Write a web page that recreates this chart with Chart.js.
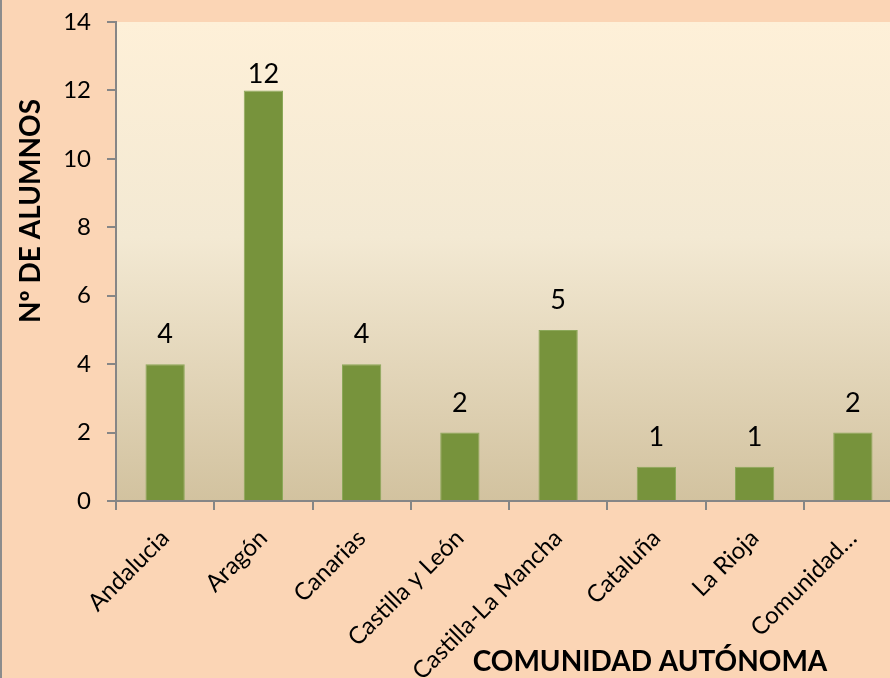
<!DOCTYPE html>
<html><head><meta charset="utf-8">
<script src="https://cdn.jsdelivr.net/npm/chart.js@4.4.1/dist/chart.umd.min.js"></script>
<style>
html,body{margin:0;padding:0;overflow:hidden;background:#FBD5B5;}
#wrap{position:relative;width:920px;height:678px;}
#wrap:before{content:"";position:absolute;left:0;top:0;width:2px;height:678px;background:#8C8C8C;z-index:2;}
canvas{display:block;}
</style></head>
<body>
<div id="wrap"><canvas id="c" width="920" height="678"></canvas></div>
<script>
const categories = ["Andalucia","Aragón","Canarias","Castilla y León","Castilla-La Mancha","Cataluña","La Rioja","Comunidad…"];
const alumnos = [4,12,4,2,5,1,1,2];
const yTicks = [0,2,4,6,8,10,12,14];
const yTitle = "Nº DE ALUMNOS";
const xTitle = "COMUNIDAD AUTÓNOMA";

const FONT = "Lato, 'Open Sans', sans-serif";
const axisColor = "#868686";

const bgPlugin = {
  id:'bg',
  beforeDraw(chart){
    const {ctx, chartArea:a} = chart;
    ctx.save();
    ctx.fillStyle = "#FBD5B5";
    ctx.fillRect(0,0,chart.width,chart.height);
    const g = ctx.createLinearGradient(0,a.top,0,a.bottom);
    g.addColorStop(0,"#FEF0D8");
    g.addColorStop(0.45,"#F3E9D3");
    g.addColorStop(1,"#D2C29F");
    ctx.fillStyle = g;
    ctx.fillRect(a.left,a.top,a.right-a.left,a.bottom-a.top);
    ctx.restore();
  }
};
const labelPlugin = {
  id:'labels',
  afterDatasetsDraw(chart){
    const {ctx} = chart;
    const meta = chart.getDatasetMeta(0);
    ctx.save();
    ctx.fillStyle = "#000";
    ctx.font = "27px " + FONT;
    ctx.textAlign = "center";
    ctx.textBaseline = "alphabetic";
    meta.data.forEach((el,i)=>{
      const y = Math.max(el.y - 21, chart.chartArea.top + 61);
      ctx.fillText(String(chart.data.datasets[0].data[i]), el.x, y);
    });
    ctx.restore();
  },
  afterDraw(chart){
    const {ctx} = chart;
    ctx.save();
    ctx.fillStyle = "#000";
    ctx.font = "bold 28px " + FONT;
    ctx.textAlign = "center";
    ctx.textBaseline = "middle";
    ctx.fillText(xTitle, 650, 662);
    ctx.translate(31, 211);
    ctx.rotate(-Math.PI/2);
    ctx.fillText(yTitle, 0, 0);
    ctx.restore();
  }
};

new Chart(document.getElementById('c'), {
  type:'bar',
  data:{
    labels: categories,
    datasets:[{
      data: alumnos,
      backgroundColor:"#77933C",
      borderColor:"#8CA85A",
      borderWidth:1,
      barPercentage:0.5,
      categoryPercentage:0.8
    }]
  },
  options:{
    responsive:false,
    animation:false,
    layout:{padding:{top:22,right:18,left:0,bottom:0}},
    plugins:{legend:{display:false},tooltip:{enabled:false}},
    scales:{
      x:{
        offset:true,
        grid:{display:true,offset:true,drawOnChartArea:false,drawTicks:true,tickLength:9,color:axisColor,lineWidth:2},
        border:{display:true,color:axisColor,width:2},
        ticks:{minRotation:45,maxRotation:45,autoSkip:false,padding:14,color:"#000",font:{family:FONT,size:24}},
        afterFit(s){ s.height = 177; s.paddingLeft = 0; s.paddingRight = 0; }
      },
      y:{
        min:0,max:14,
        afterBuildTicks(s){ s.ticks = yTicks.map(v=>({value:v})); },
        grid:{display:true,drawOnChartArea:false,drawTicks:true,tickLength:9,color:axisColor,lineWidth:2},
        border:{display:true,color:axisColor,width:2},
        ticks:{padding:16,color:"#000",font:{family:FONT,size:24}},
        afterFit(s){ s.width = 116; s.paddingTop = 0; s.paddingBottom = 0; }
      }
    }
  },
  plugins:[bgPlugin,labelPlugin]
});
</script>
</body></html>
